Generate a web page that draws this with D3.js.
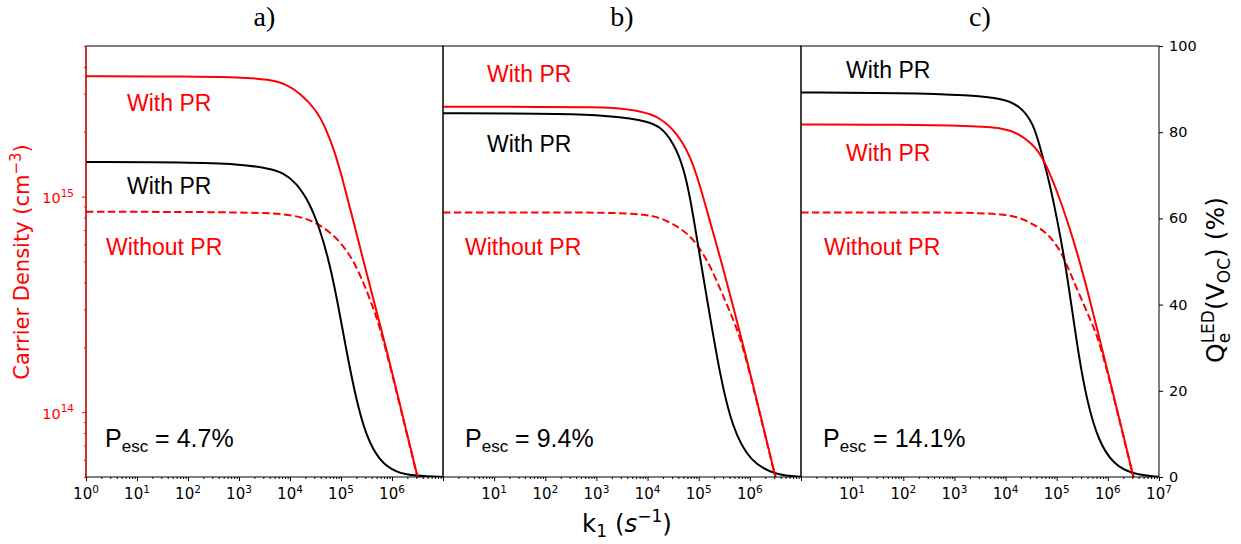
<!DOCTYPE html>
<html><head><meta charset="utf-8">
<script src="https://cdn.jsdelivr.net/npm/d3@7"></script>
<style>body{margin:0;background:#fff}</style>
</head><body>
<svg id="chart" width="1241" height="544"></svg>
<script>
// ---------------- data ----------------
const panelTitles = ["a)", "b)", "c)"];
const pescValues = ["4.7%", "9.4%", "14.1%"];
const xTickExponents = [0, 1, 2, 3, 4, 5, 6, 7];
const xLabelExponents = [[0,1,2,3,4,5,6],[1,2,3,4,5,6],[1,2,3,4,5,6,7]];
const yLeftMajorTicks = [1e14, 1e15];
const yLeftExponents = [14, 15];
const yRightTicks = [0, 20, 40, 60, 80, 100];

// carrier density (cm^-3) vs k1 (s^-1), with photon recycling (red solid)
const densPR_a = [[1,3.62e15],[1e2,3.61e15],[1e3,3.58e15],[4e3,3.50e15],[8.5e3,3.32e15],[1.54e4,3.03e15],[3.27e4,2.54e15],[5.13e4,2.05e15],[7.46e4,1.63e15],[1.08e5,1.20e15],[1.58e5,8.43e14],[2.7e5,5.13e14],[6.64e5,2.26e14],[1.13e6,1.37e14],[3.07e6,5.15e13],[3.98e6,4.03e13]];
const densPR_b = [[1,2.61e15],[1e2,2.61e15],[1e3,2.60e15],[1.85e3,2.59e15],[8.32e3,2.49e15],[1.77e4,2.32e15],[3.74e4,1.98e15],[6.82e4,1.55e15],[1.07e5,1.12e15],[1.68e5,7.57e14],[2.7e5,5.13e14],[6.64e5,2.26e14],[1.13e6,1.37e14],[3.07e6,5.15e13],[3.98e6,4.03e13]];
const densPR_c = [[1,2.16e15],[1e2,2.16e15],[2.02e3,2.13e15],[9.04e3,2.09e15],[1.91e4,1.95e15],[4.06e4,1.69e15],[6.37e4,1.39e15],[1.0e5,1.07e15],[1.57e5,7.88e14],[2.46e5,5.6e14],[3.86e5,3.8e14],[6.64e5,2.26e14],[1.13e6,1.37e14],[3.07e6,5.15e13],[3.98e6,4.03e13]];

// carrier density without photon recycling (red dashed)
const densNoPR_a = [[1,8.5e14],[1e2,8.5e14],[1.62e3,8.43e14],[7.26e3,8.34e14],[1.79e4,8.0e14],[3.27e4,7.57e14],[6.92e4,6.7e14],[1.26e5,5.7e14],[1.98e5,4.77e14],[3.11e5,3.72e14],[4.89e5,2.8e14],[6.64e5,2.2e14],[1.13e6,1.35e14],[3.07e6,5.12e13],[3.98e6,4.0e13]];
const densNoPR_b = [[1,8.45e14],[1e2,8.45e14],[1.85e3,8.43e14],[8.32e3,8.29e14],[1.77e4,8.0e14],[3.74e4,7.31e14],[6.82e4,6.58e14],[1.07e5,5.71e14],[1.68e5,4.77e14],[2.64e5,3.72e14],[4.13e5,2.9e14],[6.64e5,2.2e14],[1.13e6,1.35e14],[3.07e6,5.12e13],[3.98e6,4.0e13]];
const densNoPR_c = [[1,8.45e14],[1e2,8.45e14],[2.02e3,8.43e14],[9.04e3,8.29e14],[1.91e4,8.0e14],[4.06e4,7.31e14],[7.4e4,6.58e14],[1.25e5,5.5e14],[1.82e5,4.44e14],[2.86e5,3.46e14],[4.49e5,2.7e14],[6.64e5,2.18e14],[1.13e6,1.35e14],[3.07e6,5.12e13],[3.98e6,4.0e13]];

// external LED quantum efficiency Q_e^LED(V_OC) (%) with PR (black solid)
const qe_a = [[1,73.1],[1e2,73.0],[1e3,72.6],[3.99e3,71.6],[7.26e3,70.6],[1.33e4,68.3],[2.42e4,63.6],[3.79e4,57.8],[5.96e4,49.7],[8.65e4,40.4],[1.26e5,29.6],[1.98e5,18.0],[3.11e5,9.5],[5.66e5,3.7],[1.20e6,1.0],[2.96e6,0.23],[1e7,0.02]];
const qe_b = [[1,84.4],[1e2,84.3],[1e3,84.1],[8.32e3,82.9],[1.77e4,81.4],[3.21e4,77.6],[5.05e4,71.9],[6.82e4,64.7],[8.93e4,56.4],[1.24e5,46.1],[1.68e5,36.9],[2.64e5,23.4],[4.47e5,11.6],[1.02e6,3.3],[3.39e6,0.4],[1e7,0.03]];
const qe_c = [[1,89.2],[1e2,89.1],[2.02e3,88.6],[9.04e3,87.8],[1.91e4,86.1],[3.49e4,82.2],[5.09e4,75.2],[7.4e4,67.8],[1.03e5,59.5],[1.45e5,50.0],[1.96e5,39.5],[2.64e5,28.8],[3.86e5,17.8],[6.5e5,8.4],[1.28e6,2.9],[3.15e6,0.6],[1e7,0.03]];

// ---------------- layout ----------------
const svg = d3.select("#chart");
const plotTop = 46, plotBottom = 477;
const panelRanges = [[86, 443], [443, 801], [801, 1159]];
const RED = "#ff0000";
const tickFont = "'DejaVu Sans', sans-serif";
const annFont = "'Liberation Sans', Arial, sans-serif";

const yLeft = d3.scaleLog().domain([5e13, 5e15]).range([plotBottom, plotTop]);
const yRight = d3.scaleLinear().domain([0, 100]).range([plotBottom, plotTop]);

const panelData = [
  {dPR: densPR_a, dNo: densNoPR_a, qe: qe_a,
   labels: [{t:"With PR", c:RED, x:127, y:111}, {t:"With PR", c:"#000", x:127, y:194}, {t:"Without PR", c:RED, x:106, y:255}], px:105},
  {dPR: densPR_b, dNo: densNoPR_b, qe: qe_b,
   labels: [{t:"With PR", c:RED, x:487, y:82}, {t:"With PR", c:"#000", x:487, y:152}, {t:"Without PR", c:RED, x:465, y:255}], px:465},
  {dPR: densPR_c, dNo: densNoPR_c, qe: qe_c,
   labels: [{t:"With PR", c:"#000", x:846, y:78}, {t:"With PR", c:RED, x:846, y:161}, {t:"Without PR", c:RED, x:824, y:255}], px:823}
];

const minorX = [];
for (let e = 0; e < 7; e++) for (let m = 2; m <= 9; m++) minorX.push(m * Math.pow(10, e));
const minorY = [];
for (const e of [13, 14, 15]) for (let m = 2; m <= 9; m++) {
  const v = m * Math.pow(10, e);
  if (v > 5e13 * 0.999 && v < 5e15 * 1.001) minorY.push(v);
}

const curveType = d3.curveBasis;

panelData.forEach((p, i) => {
  const [x0, x1] = panelRanges[i];
  const x = d3.scaleLog().domain([1, 1e7]).range([x0, x1]);
  const g = svg.append("g");

  const clipId = "clip" + i;
  svg.append("clipPath").attr("id", clipId).append("rect")
    .attr("x", x0).attr("y", plotTop).attr("width", x1 - x0).attr("height", plotBottom - plotTop);

  const curves = g.append("g").attr("clip-path", `url(#${clipId})`);
  const lineL = d3.line().x(d => x(d[0])).y(d => yLeft(d[1])).curve(curveType);
  const lineR = d3.line().x(d => x(d[0])).y(d => yRight(d[1])).curve(curveType);

  curves.append("path").attr("d", lineL(p.dNo)).attr("fill", "none").attr("stroke", RED)
    .attr("stroke-width", 2).attr("stroke-dasharray", "7.5,3.5");
  curves.append("path").attr("d", lineR(p.qe)).attr("fill", "none").attr("stroke", "#000").attr("stroke-width", 2);
  curves.append("path").attr("d", lineL(p.dPR)).attr("fill", "none").attr("stroke", RED).attr("stroke-width", 2);

  // frame
  g.append("rect").attr("x", x0).attr("y", plotTop).attr("width", x1 - x0).attr("height", plotBottom - plotTop)
    .attr("fill", "none").attr("stroke", "#000").attr("stroke-width", 1);

  // x axis
  const axMajor = g.append("g").attr("transform", `translate(0,${plotBottom})`)
    .call(d3.axisBottom(x).tickValues(xTickExponents.map(e => Math.pow(10, e))).tickSize(4).tickFormat(""));
  const axMinor = g.append("g").attr("transform", `translate(0,${plotBottom})`)
    .call(d3.axisBottom(x).tickValues(minorX).tickSize(2).tickFormat(""));
  [axMajor, axMinor].forEach(a => { a.select(".domain").remove(); a.selectAll("line").attr("stroke", "#000").attr("stroke-width", 1); });

  xLabelExponents[i].forEach(e => {
    const t = g.append("text").attr("x", x(Math.pow(10, e))).attr("y", 499)
      .attr("text-anchor", "middle").attr("font-family", tickFont).attr("font-size", 15).attr("fill", "#000");
    t.append("tspan").text("10");
    t.append("tspan").attr("font-size", 10.5).attr("dy", -6.5).text(e);
  });

  // title
  g.append("text").attr("x", (x0 + x1) / 2).attr("y", 26).attr("text-anchor", "middle")
    .attr("font-family", "'Liberation Serif', 'Times New Roman', serif").attr("font-size", 28).text(panelTitles[i]);

  // annotations
  p.labels.forEach(l => {
    g.append("text").attr("x", l.x).attr("y", l.y).attr("font-family", annFont).attr("font-size", 23)
      .attr("fill", l.c).text(l.t);
  });
  const pt = g.append("text").attr("x", p.px).attr("y", 447).attr("font-family", annFont).attr("font-size", 25).attr("fill", "#000");
  pt.append("tspan").text("P");
  pt.append("tspan").attr("font-size", 17).attr("dy", 5).text("esc");
  pt.append("tspan").attr("dy", -5).text(" = " + pescValues[i]);
});

// left axis (panel a)
{
  const x0 = panelRanges[0][0];
  const g = svg.append("g").attr("transform", `translate(${x0},0)`);
  const aM = g.append("g").call(d3.axisLeft(yLeft).tickValues(yLeftMajorTicks).tickSize(4).tickFormat(""));
  const am = g.append("g").call(d3.axisLeft(yLeft).tickValues(minorY).tickSize(2).tickFormat(""));
  [aM, am].forEach(a => { a.select(".domain").remove(); a.selectAll("line").attr("stroke", RED).attr("stroke-width", 1); });
  yLeftMajorTicks.forEach((v, k) => {
    const t = g.append("text").attr("x", -12).attr("y", yLeft(v) + 6.5).attr("text-anchor", "end")
      .attr("font-family", tickFont).attr("font-size", 14.5).attr("fill", RED);
    t.append("tspan").text("10");
    t.append("tspan").attr("font-size", 10.5).attr("dy", -6.5).text(yLeftExponents[k]);
  });
  svg.append("line").attr("x1", x0).attr("x2", x0).attr("y1", plotTop).attr("y2", plotBottom)
    .attr("stroke", RED).attr("stroke-width", 1.2);
  const lt = svg.append("text").attr("transform", "translate(29,262) rotate(-90)").attr("text-anchor", "middle")
    .attr("font-family", tickFont).attr("font-size", 21).attr("fill", RED);
  lt.append("tspan").text("Carrier Density (cm");
  lt.append("tspan").attr("font-size", 15).attr("dy", -8).text("\u22123");
  lt.append("tspan").attr("dy", 8).text(")");
}

// right axis (panel c)
{
  const x1 = panelRanges[2][1];
  const g = svg.append("g").attr("transform", `translate(${x1},0)`);
  const a = g.append("g").call(d3.axisRight(yRight).tickValues(yRightTicks).tickSize(4).tickFormat(""));
  a.select(".domain").remove();
  a.selectAll("line").attr("stroke", "#000").attr("stroke-width", 1);
  yRightTicks.forEach(v => {
    g.append("text").attr("x", 10).attr("y", yRight(v) + 5).attr("font-family", tickFont)
      .attr("font-size", 14.5).attr("fill", "#000").text(v);
  });
  const subSize = 17;
  const measure = svg.append("text").attr("font-family", tickFont).attr("font-size", subSize).text("LED");
  const wLED = measure.node().getComputedTextLength();
  measure.text("e");
  const wE = measure.node().getComputedTextLength();
  measure.remove();
  const rt = svg.append("text").attr("transform", "translate(1224,280) rotate(-90)").attr("text-anchor", "middle")
    .attr("font-family", tickFont).attr("font-size", 25).attr("fill", "#000");
  rt.append("tspan").text("Q");
  rt.append("tspan").attr("font-size", subSize).attr("dy", -10).text("LED");
  rt.append("tspan").attr("font-size", subSize).attr("dx", -wLED).attr("dy", 16).text("e");
  rt.append("tspan").attr("dx", wLED - wE).attr("dy", -6).text("(V");
  rt.append("tspan").attr("font-size", subSize).attr("dy", 6).text("OC");
  rt.append("tspan").attr("dy", -6).text(") (%)");
}

// x-axis label
{
  const t = svg.append("text").attr("x", 627).attr("y", 532).attr("text-anchor", "middle")
    .attr("font-family", tickFont).attr("font-size", 24.5).attr("fill", "#000");
  t.append("tspan").text("k");
  t.append("tspan").attr("font-size", 17).attr("dy", 5).text("1");
  t.append("tspan").attr("dy", -5).text(" (");
  t.append("tspan").attr("font-style", "italic").text("s");
  t.append("tspan").attr("font-size", 17).attr("dy", -10).text("\u22121");
  t.append("tspan").attr("dy", 10).text(")");
}
</script>
</body></html>
